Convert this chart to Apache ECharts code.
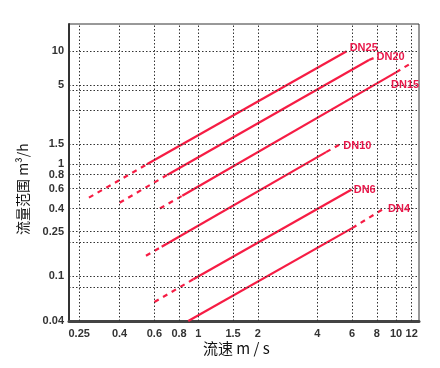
<!DOCTYPE html>
<html>
<head>
<meta charset="utf-8">
<script src="https://cdn.jsdelivr.net/npm/echarts@6/dist/echarts.min.js"></script>
<style>html,body{margin:0;padding:0;background:#fff}#c{width:440px;height:368px}</style>
</head>
<body>
<div id="c"></div>
<script>
// Tick labels / grid values
const xTicks = [0.25, 0.4, 0.6, 0.8, 1, 1.5, 2, 4, 6, 8, 10, 12];
const yTicks = [0.04, 0.1, 0.25, 0.4, 0.6, 0.8, 1, 1.5, 5, 10];
const yGridOnly = [0.08, 0.2, 3, 4.5];

// Series values: [velocity m/s, flow m3/h]
const dn25Dash = [[0.28, 0.50], [0.55, 0.99]];
const dn25Solid = [[0.55, 0.99], [5.63, 10]];
const dn20Dash = [[0.40, 0.45], [0.70, 0.80]];
const dn20Solid = [[0.70, 0.80], [7.3, 8.36]];
const dn20Tail = [[7.3, 8.36], [7.7, 8.7]];
const dn15Dash = [[0.64, 0.40], [0.83, 0.52]];
const dn15Solid = [[0.83, 0.52], [10, 6.5]];
const dn15Tail = [[10, 6.5], [12, 7.9]];
const dn10Dash = [[0.544, 0.152], [0.653, 0.183]];
const dn10Solid = [[0.653, 0.183], [4.43, 1.27]];
const dn10Tail = [[4.43, 1.27], [5.17, 1.48]];
const dn6Dash = [[0.60, 0.059], [0.944, 0.094]];
const dn6Solid = [[0.944, 0.094], [5.97, 0.59]];
const dn4Solid = [[0.89, 0.04], [6.0, 0.268]];
const dn4Tail = [[6.0, 0.268], [8.7, 0.40]];

const RED = '#f61c44';
const LBL = '#e8184a';

function seg(data, dashed, label, lblOpt) {
  const s = {
    type: 'line', data: data, symbol: 'none', silent: true,
    lineStyle: { color: RED, width: 2.2, type: dashed ? [5, 5] : 'solid', cap: 'butt' }
  };
  if (label) {
    s.markPoint = {
      silent: true, symbol: 'circle', symbolSize: 0,
      data: [{ coord: data[data.length - 1] }],
      label: Object.assign({
        show: true, formatter: label, color: LBL, fontWeight: 'bold',
        fontSize: 11, fontFamily: 'Liberation Sans, Arial, sans-serif', position: 'right', distance: 3
      }, lblOpt || {})
    };
  }
  return s;
}

const gridLines = {
  type: 'line', data: [[1, 1]], symbol: 'none', silent: true,
  lineStyle: { opacity: 0 },
  markLine: {
    silent: true, symbol: ['none', 'none'], label: { show: false },
    lineStyle: { type: [1.5, 2], color: '#333', width: 1 },
    data: xTicks.map(v => ({ xAxis: v })).concat(
      yTicks.filter(v => v > 0.04).concat(yGridOnly).map(v => ({ yAxis: v })))
  }
};

const chart = echarts.init(document.getElementById('c'));
chart.setOption({
  animation: false,
  grid: { left: 69, right: 21, top: 24, bottom: 47, show: true, borderColor: '#333', borderWidth: 1 },
  xAxis: {
    type: 'log', min: 0.222, max: 13.07, logBase: 10,
    axisLine: { show: true, lineStyle: { color: '#444', width: 3 } },
    axisTick: { show: false }, splitLine: { show: false }, minorTick: { show: false },
    axisLabel: {
      customValues: xTicks, margin: 7, color: '#333', fontSize: 11, fontWeight: 'bold',
      fontFamily: 'Liberation Sans, Arial, sans-serif',
      formatter: v => String(v)
    }
  },
  yAxis: {
    type: 'log', min: 0.04, max: 17.5, logBase: 10,
    axisLine: { show: true, lineStyle: { color: '#333', width: 2 } },
    axisTick: { show: false }, splitLine: { show: false },
    axisLabel: {
      customValues: yTicks, margin: 5, color: '#333', fontSize: 11, fontWeight: 'bold',
      fontFamily: 'Liberation Sans, Arial, sans-serif',
      formatter: v => String(v)
    }
  },
  graphic: [
    { type: 'text', left: 203, top: 341,
      style: { text: '流速 m / s', font: '15px "Noto Sans CJK SC", sans-serif', fill: '#111' } },
    { type: 'text', x: 16, y: 235, rotation: Math.PI / 2,
      style: { text: '流量范围 m³/h', font: '14px "Noto Sans CJK SC", sans-serif', fill: '#111' } }
  ],
  series: [
    gridLines,
    seg(dn25Dash, true), seg(dn25Solid, false, 'DN25', { offset: [0, -3] }),
    seg(dn20Dash, true), seg(dn20Solid, false), seg(dn20Tail, true, 'DN20', { offset: [0, -1] }),
    seg(dn15Dash, true), seg(dn15Solid, false, 'DN15', { position: 'right', distance: 0, offset: [-5, 13] }), seg(dn15Tail, true),
    seg(dn10Dash, true), seg(dn10Solid, false), seg(dn10Tail, true, 'DN10', { distance: 4, offset: [0, 1] }),
    seg(dn6Dash, true), seg(dn6Solid, false, 'DN6', { distance: 2 }),
    seg(dn4Solid, false), seg(dn4Tail, true, 'DN4', { distance: 4 })
  ]
});
</script>
</body>
</html>
